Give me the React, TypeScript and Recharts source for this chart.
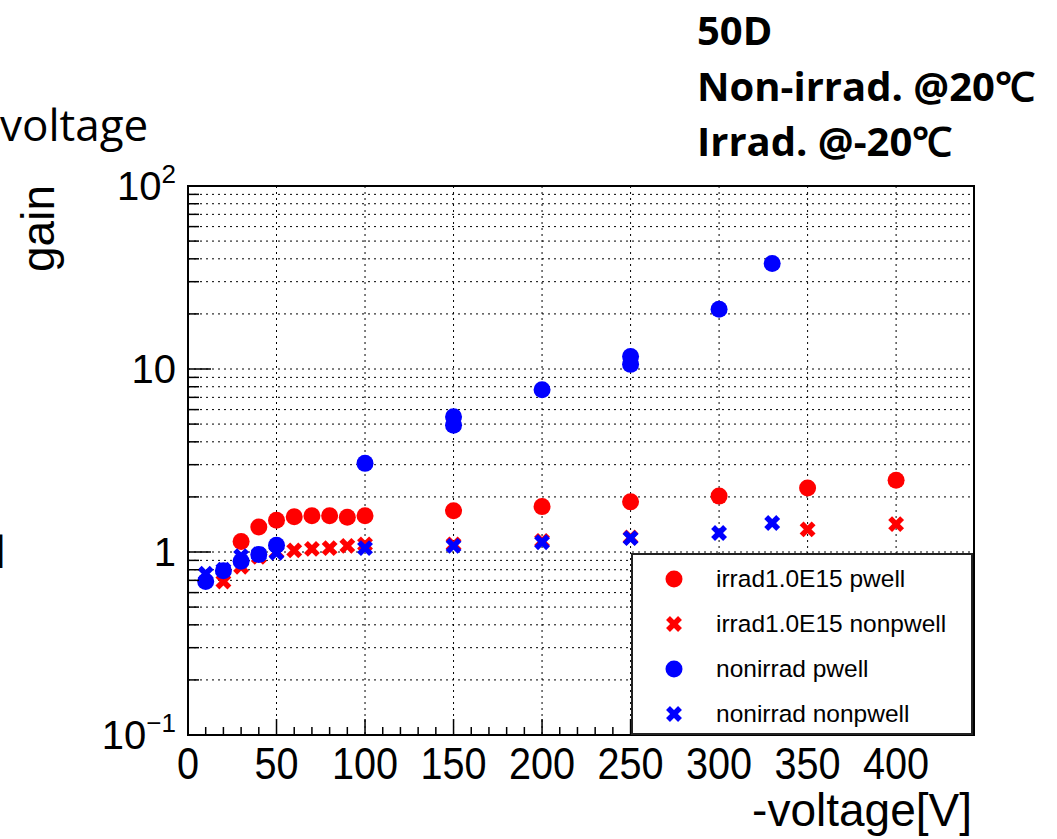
import React from "react";
import {
  ScatterChart,
  Scatter,
  XAxis,
  YAxis,
  CartesianGrid,
  ReferenceArea,
  Legend,
} from "recharts";

// ---- data (voltage in V, gain) ----
const irradPwellVoltage = [30, 40, 50, 60, 70, 80, 90, 100, 150, 200, 250, 300, 350, 400];
const irradPwellGain = [1.14, 1.37, 1.49, 1.56, 1.58, 1.58, 1.55, 1.58, 1.68, 1.77, 1.88, 2.02, 2.24, 2.47];

const irradNonpwellVoltage = [20, 30, 40, 50, 60, 70, 80, 90, 100, 150, 200, 250, 350, 400];
const irradNonpwellGain = [0.69, 0.83, 0.94, 1.0, 1.02, 1.04, 1.05, 1.08, 1.1, 1.1, 1.15, 1.2, 1.33, 1.42];

const nonirradPwellVoltage = [10, 20, 30, 40, 50, 100, 150, 150, 200, 250, 250, 300, 330];
const nonirradPwellGain = [0.69, 0.79, 0.89, 0.97, 1.09, 3.05, 5.48, 4.93, 7.7, 11.7, 10.6, 21.2, 37.7];

const nonirradNonpwellVoltage = [10, 20, 30, 40, 50, 100, 150, 200, 250, 300, 330];
const nonirradNonpwellGain = [0.76, 0.8, 0.95, 0.97, 0.99, 1.05, 1.08, 1.13, 1.19, 1.27, 1.44];

// ---- axes ----
const X_DOMAIN = [0, 444];
const X_TICKS = [0, 10, 20, 30, 40, 50, 60, 70, 80, 90, 100, 110, 120, 130, 140, 150, 160, 170, 180, 190, 200, 210, 220, 230, 240, 250, 260, 270, 280, 290, 300, 310, 320, 330, 340, 350, 360, 370, 380, 390, 400, 410, 420, 430, 440];
const X_LABELS = [0, 50, 100, 150, 200, 250, 300, 350, 400];
const X_GRID = [50, 100, 150, 200, 250, 300, 350, 400];

const Y_DOMAIN = [0.1, 100];
const DECADES = [0.1, 1, 10];
const MANTISSAS = [1, 2, 3, 4, 5, 6, 7, 8, 9];
const Y_TICKS = [...DECADES.flatMap((d) => MANTISSAS.map((m) => +(d * m).toPrecision(2))), 100];
const Y_LABELS: Record<number, [string, string]> = {
  0.1: ["10", "\u22121"],
  1: ["1", ""],
  10: ["10", ""],
  100: ["10", "2"],
};

const W = 1057;
const H = 839;
const PLOT = { left: 188, top: 186, right: 974, bottom: 735 };
const X_AXIS_H = 50;
const Y_AXIS_W = 60;

const RED = "#ff0000";
const BLUE = "#0000ff";
const FONT = "'Liberation Sans', Arial, Helvetica, sans-serif";

const toPoints = (v: number[], g: number[]) => v.map((volt, i) => ({ volt, gain: g[i] }));

const SERIES = [
  { name: "irrad1.0E15 pwell", color: RED, marker: "dot", data: toPoints(irradPwellVoltage, irradPwellGain) },
  { name: "irrad1.0E15 nonpwell", color: RED, marker: "cross", data: toPoints(irradNonpwellVoltage, irradNonpwellGain) },
  { name: "nonirrad pwell", color: BLUE, marker: "dot", data: toPoints(nonirradPwellVoltage, nonirradPwellGain) },
  { name: "nonirrad nonpwell", color: BLUE, marker: "cross", data: toPoints(nonirradNonpwellVoltage, nonirradNonpwellGain) },
];

function Marker({ cx, cy, color, marker }: { cx: number; cy: number; color: string; marker: string }) {
  if (marker === "dot") return <circle cx={cx} cy={cy} r={8.5} fill={color} />;
  const a = 6;
  return (
    <g stroke={color} strokeWidth={5.5}>
      <line x1={cx - a} y1={cy - a} x2={cx + a} y2={cy + a} />
      <line x1={cx - a} y1={cy + a} x2={cx + a} y2={cy - a} />
    </g>
  );
}

function VoltTick({ x, y, payload }: any) {
  const v = payload.value;
  const major = v % 50 === 0;
  return (
    <g>
      <line x1={x} x2={x} y1={PLOT.bottom} y2={PLOT.bottom - (major ? 16 : 8)} stroke="#000" strokeWidth={1.5} />
      {X_LABELS.includes(v) && (
        <text
          transform={`translate(${x},${y + 44}) scale(0.88,1)`}
          textAnchor="middle"
          fontSize={45}
          fontFamily={FONT}
          fill="#000"
        >
          {v}
        </text>
      )}
    </g>
  );
}

function GainTick({ x, y, payload }: any) {
  const v = payload.value;
  const label = Y_LABELS[v];
  return (
    <g>
      <line x1={PLOT.left} x2={PLOT.left + (label ? 23 : 11)} y1={y} y2={y} stroke="#000" strokeWidth={1.5} />
      {label && (
        <text x={x - 12} y={y + 14} textAnchor="end" fontSize={40} fontFamily={FONT} fill="#000">
          <tspan>{label[0]}</tspan>
          {label[1] && (
            <tspan dy={-17} fontSize={26}>
              {label[1]}
            </tspan>
          )}
        </text>
      )}
    </g>
  );
}

function LegendBox() {
  return (
    <div
      style={{
        width: 342,
        height: 182,
        boxSizing: "border-box",
        border: "2px solid #222",
        background: "#fff",
        position: "relative",
        fontFamily: FONT,
      }}
    >
      {SERIES.map((s, i) => (
        <div key={s.name} style={{ position: "absolute", left: 0, top: 24 + i * 45 - 20, height: 40, width: 338 }}>
          <svg width={80} height={40} style={{ position: "absolute", left: 0, top: 0 }}>
            <Marker cx={41} cy={20} color={s.color} marker={s.marker} />
          </svg>
          <span
            style={{
              position: "absolute",
              left: 83,
              top: 0,
              lineHeight: "40px",
              fontSize: 24.5,
              color: "#000",
              whiteSpace: "nowrap",
            }}
          >
            {s.name}
          </span>
        </div>
      ))}
    </div>
  );
}

export default function App() {
  return (
    <div style={{ position: "absolute", left: 0, top: 0, width: W, height: H, background: "#fff", overflow: "hidden" }}>
      <ScatterChart
        width={W}
        height={H}
        margin={{
          top: PLOT.top,
          right: W - PLOT.right,
          bottom: H - PLOT.bottom - X_AXIS_H,
          left: PLOT.left - Y_AXIS_W,
        }}
      >
        <CartesianGrid
          stroke="#000"
          strokeDasharray="2 4"
          strokeWidth={1}
          verticalValues={X_GRID}
          fill="none"
        />
        <XAxis
          type="number"
          dataKey="volt"
          domain={X_DOMAIN}
          ticks={X_TICKS}
          interval={0}
          allowDataOverflow
          height={X_AXIS_H}
          tickSize={0}
          tickMargin={0}
          tickLine={false}
          axisLine={{ stroke: "#000", strokeWidth: 2 }}
          tick={(p: any) => <VoltTick {...p} />}
        />
        <YAxis
          type="number"
          dataKey="gain"
          scale="log"
          domain={Y_DOMAIN}
          ticks={Y_TICKS}
          interval={0}
          allowDataOverflow
          width={Y_AXIS_W}
          tickSize={0}
          tickMargin={0}
          tickLine={false}
          axisLine={{ stroke: "#000", strokeWidth: 2 }}
          tick={(p: any) => <GainTick {...p} />}
        />
        {SERIES.map((s) => (
          <Scatter
            key={s.name}
            name={s.name}
            data={s.data}
            fill={s.color}
            isAnimationActive={false}
            shape={(p: any) => <Marker cx={p.cx} cy={p.cy} color={s.color} marker={s.marker} />}
          />
        ))}
        <ReferenceArea
          x1={X_DOMAIN[0]}
          x2={X_DOMAIN[1]}
          y1={Y_DOMAIN[0]}
          y2={Y_DOMAIN[1]}
          fill="none"
          fillOpacity={0}
          stroke="#000"
          strokeWidth={2}
        />
        <Legend
          layout="vertical"
          align="center"
          verticalAlign="middle"
          content={() => <LegendBox />}
          wrapperStyle={{ left: 631, top: 553, width: 342, height: 182 }}
        />
      </ScatterChart>

      <svg width={W} height={H} style={{ position: "absolute", left: 0, top: 0, pointerEvents: "none" }}>
        <g fontFamily="'Open Sans', sans-serif" fontWeight={700} fontSize={40} fill="#000">
          <text x={697} y={45}>50D</text>
          <text x={697} y={101}>Non-irrad. @20℃</text>
          <text x={697} y={156}>Irrad. @-20℃</text>
        </g>
        <text x={0} y={141} fontFamily="'Open Sans', sans-serif" fontSize={44} fill="#000">
          voltage
        </text>
        <text x={-5} y={568} fontFamily="'Open Sans', sans-serif" fontSize={44} fill="#000">
          l
        </text>
        <text
          transform="translate(54,185) rotate(-90)"
          textAnchor="end"
          fontFamily={FONT}
          fontSize={46}
          fill="#000"
        >
          gain
        </text>
        <text x={972} y={826} textAnchor="end" fontFamily={FONT} fontSize={46} fill="#000">
          -voltage[V]
        </text>
      </svg>
    </div>
  );
}
